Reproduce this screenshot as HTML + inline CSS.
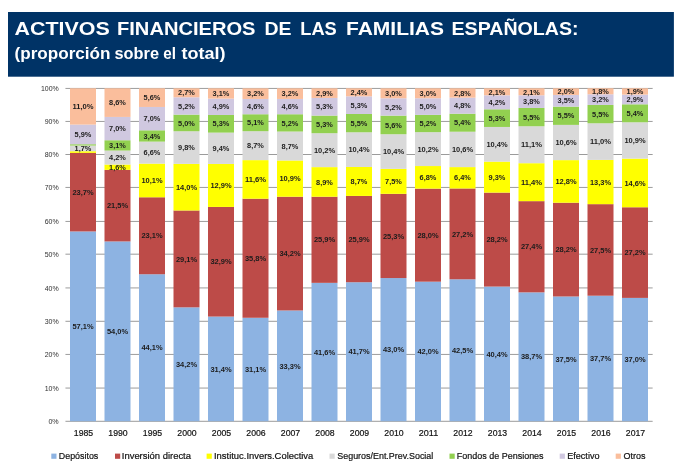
<!DOCTYPE html>
<html lang="es"><head><meta charset="utf-8"><title>Activos financieros de las familias españolas</title>
<style>
html,body{margin:0;padding:0;background:#fff;}
body{width:680px;height:476px;overflow:hidden;position:relative;font-family:"Liberation Sans",sans-serif;}
svg{position:absolute;left:0;top:0;display:block;filter:blur(0.35px);}
text{font-family:"Liberation Sans",sans-serif;}
.t1{font-size:19.2px;font-weight:bold;fill:#fff;}
.t2{font-size:16.6px;font-weight:bold;fill:#fff;}
.ax{font-size:7.4px;fill:#303030;}
.yr{font-size:9.2px;fill:#111;stroke:#111;stroke-width:0.2px;}
.lb{font-size:6.6px;font-weight:bold;fill:#1c1c1c;}
.lg{font-size:9.2px;fill:#111;stroke:#111;stroke-width:0.2px;}
</style></head><body>
<svg width="680" height="476" viewBox="0 0 680 476">
<rect x="0" y="0" width="680" height="476" fill="#ffffff"/>
<rect x="8" y="12" width="665.9" height="64.7" fill="#003366"/>
<text class="t1" x="14.50" y="34.8" textLength="95.25" lengthAdjust="spacingAndGlyphs">ACTIVOS</text>
<text class="t1" x="117.00" y="34.8" textLength="138.50" lengthAdjust="spacingAndGlyphs">FINANCIEROS</text>
<text class="t1" x="264.50" y="34.8" textLength="27.00" lengthAdjust="spacingAndGlyphs">DE</text>
<text class="t1" x="300.25" y="34.8" textLength="36.50" lengthAdjust="spacingAndGlyphs">LAS</text>
<text class="t1" x="346.00" y="34.8" textLength="98.00" lengthAdjust="spacingAndGlyphs">FAMILIAS</text>
<text class="t1" x="451.50" y="34.8" textLength="127.10" lengthAdjust="spacingAndGlyphs">ESPAÑOLAS:</text>
<text class="t2" x="14.50" y="59.4" textLength="96.00" lengthAdjust="spacingAndGlyphs">(proporción</text>
<text class="t2" x="114.50" y="59.4" textLength="44.50" lengthAdjust="spacingAndGlyphs">sobre</text>
<text class="t2" x="163.25" y="59.4" textLength="12.75" lengthAdjust="spacingAndGlyphs">el</text>
<text class="t2" x="181.50" y="59.4" textLength="44.00" lengthAdjust="spacingAndGlyphs">total)</text>
<line x1="65.45" y1="421.30" x2="652.65" y2="421.30" stroke="#707070" stroke-width="0.7"/>
<text class="ax" x="48.40" y="424.20" textLength="10.3" lengthAdjust="spacingAndGlyphs">0%</text>
<line x1="65.45" y1="388.06" x2="652.65" y2="388.06" stroke="#707070" stroke-width="0.7"/>
<text class="ax" x="44.70" y="390.96" textLength="14.0" lengthAdjust="spacingAndGlyphs">10%</text>
<line x1="65.45" y1="354.43" x2="652.65" y2="354.43" stroke="#707070" stroke-width="0.7"/>
<text class="ax" x="44.70" y="357.33" textLength="14.0" lengthAdjust="spacingAndGlyphs">20%</text>
<line x1="65.45" y1="321.30" x2="652.65" y2="321.30" stroke="#707070" stroke-width="0.7"/>
<text class="ax" x="44.70" y="324.20" textLength="14.0" lengthAdjust="spacingAndGlyphs">30%</text>
<line x1="65.45" y1="287.93" x2="652.65" y2="287.93" stroke="#707070" stroke-width="0.7"/>
<text class="ax" x="44.70" y="290.83" textLength="14.0" lengthAdjust="spacingAndGlyphs">40%</text>
<line x1="65.45" y1="254.18" x2="652.65" y2="254.18" stroke="#707070" stroke-width="0.7"/>
<text class="ax" x="44.70" y="257.08" textLength="14.0" lengthAdjust="spacingAndGlyphs">50%</text>
<line x1="65.45" y1="221.43" x2="652.65" y2="221.43" stroke="#707070" stroke-width="0.7"/>
<text class="ax" x="44.70" y="224.33" textLength="14.0" lengthAdjust="spacingAndGlyphs">60%</text>
<line x1="65.45" y1="187.43" x2="652.65" y2="187.43" stroke="#707070" stroke-width="0.7"/>
<text class="ax" x="44.70" y="190.33" textLength="14.0" lengthAdjust="spacingAndGlyphs">70%</text>
<line x1="65.45" y1="154.50" x2="652.65" y2="154.50" stroke="#707070" stroke-width="0.7"/>
<text class="ax" x="44.70" y="157.40" textLength="14.0" lengthAdjust="spacingAndGlyphs">80%</text>
<line x1="65.45" y1="121.43" x2="652.65" y2="121.43" stroke="#707070" stroke-width="0.7"/>
<text class="ax" x="44.70" y="124.33" textLength="14.0" lengthAdjust="spacingAndGlyphs">90%</text>
<line x1="65.45" y1="88.43" x2="652.65" y2="88.43" stroke="#707070" stroke-width="0.7"/>
<text class="ax" x="40.90" y="91.33" textLength="17.8" lengthAdjust="spacingAndGlyphs">100%</text>
<rect x="70.00" y="231.45" width="26.00" height="189.75" fill="#8DB3E2"/>
<text class="lb" x="72.40" y="329.02" textLength="21.2" lengthAdjust="spacingAndGlyphs">57,1%</text>
<rect x="70.00" y="152.88" width="26.00" height="78.56" fill="#BD4B48"/>
<text class="lb" x="72.40" y="194.86" textLength="21.2" lengthAdjust="spacingAndGlyphs">23,7%</text>
<rect x="70.00" y="151.22" width="26.00" height="1.66" fill="#FFFF00"/>
<rect x="70.00" y="145.56" width="26.00" height="5.66" fill="#D9D9D9"/>
<text class="lb" x="74.60" y="151.09" textLength="16.8" lengthAdjust="spacingAndGlyphs">1,7%</text>
<rect x="70.00" y="144.23" width="26.00" height="1.33" fill="#92D050"/>
<rect x="70.00" y="124.59" width="26.00" height="19.64" fill="#D0C8E0"/>
<text class="lb" x="74.60" y="137.11" textLength="16.8" lengthAdjust="spacingAndGlyphs">5,9%</text>
<rect x="70.00" y="88.30" width="26.00" height="36.29" fill="#FABE9C"/>
<text class="lb" x="72.40" y="109.14" textLength="21.2" lengthAdjust="spacingAndGlyphs">11,0%</text>
<text class="yr" x="73.80" y="435.9" textLength="19.4" lengthAdjust="spacingAndGlyphs">1985</text>
<rect x="104.50" y="241.43" width="26.00" height="179.77" fill="#8DB3E2"/>
<text class="lb" x="106.90" y="334.02" textLength="21.2" lengthAdjust="spacingAndGlyphs">54,0%</text>
<rect x="104.50" y="169.86" width="26.00" height="71.57" fill="#BD4B48"/>
<text class="lb" x="106.90" y="208.35" textLength="21.2" lengthAdjust="spacingAndGlyphs">21,5%</text>
<rect x="104.50" y="164.53" width="26.00" height="5.33" fill="#FFFF00"/>
<text class="lb" x="109.10" y="169.90" textLength="16.8" lengthAdjust="spacingAndGlyphs">1,6%</text>
<rect x="104.50" y="150.55" width="26.00" height="13.98" fill="#D9D9D9"/>
<text class="lb" x="109.10" y="160.24" textLength="16.8" lengthAdjust="spacingAndGlyphs">4,2%</text>
<rect x="104.50" y="140.23" width="26.00" height="10.32" fill="#92D050"/>
<text class="lb" x="109.10" y="148.09" textLength="16.8" lengthAdjust="spacingAndGlyphs">3,1%</text>
<rect x="104.50" y="116.93" width="26.00" height="23.30" fill="#D0C8E0"/>
<text class="lb" x="109.10" y="131.28" textLength="16.8" lengthAdjust="spacingAndGlyphs">7,0%</text>
<rect x="104.50" y="88.30" width="26.00" height="28.63" fill="#FABE9C"/>
<text class="lb" x="109.10" y="105.31" textLength="16.8" lengthAdjust="spacingAndGlyphs">8,6%</text>
<text class="yr" x="108.30" y="435.9" textLength="19.4" lengthAdjust="spacingAndGlyphs">1990</text>
<rect x="139.00" y="274.24" width="26.00" height="146.96" fill="#8DB3E2"/>
<text class="lb" x="141.40" y="350.42" textLength="21.2" lengthAdjust="spacingAndGlyphs">44,1%</text>
<rect x="139.00" y="197.27" width="26.00" height="76.98" fill="#BD4B48"/>
<text class="lb" x="141.40" y="238.46" textLength="21.2" lengthAdjust="spacingAndGlyphs">23,1%</text>
<rect x="139.00" y="163.61" width="26.00" height="33.66" fill="#FFFF00"/>
<text class="lb" x="141.40" y="183.14" textLength="21.2" lengthAdjust="spacingAndGlyphs">10,1%</text>
<rect x="139.00" y="141.62" width="26.00" height="21.99" fill="#D9D9D9"/>
<text class="lb" x="143.60" y="155.31" textLength="16.8" lengthAdjust="spacingAndGlyphs">6,6%</text>
<rect x="139.00" y="130.29" width="26.00" height="11.33" fill="#92D050"/>
<text class="lb" x="143.60" y="138.65" textLength="16.8" lengthAdjust="spacingAndGlyphs">3,4%</text>
<rect x="139.00" y="106.96" width="26.00" height="23.33" fill="#D0C8E0"/>
<text class="lb" x="143.60" y="121.32" textLength="16.8" lengthAdjust="spacingAndGlyphs">7,0%</text>
<rect x="139.00" y="88.30" width="26.00" height="18.66" fill="#FABE9C"/>
<text class="lb" x="143.60" y="100.33" textLength="16.8" lengthAdjust="spacingAndGlyphs">5,6%</text>
<text class="yr" x="142.80" y="435.9" textLength="19.4" lengthAdjust="spacingAndGlyphs">1995</text>
<rect x="173.50" y="307.35" width="26.00" height="113.85" fill="#8DB3E2"/>
<text class="lb" x="175.90" y="366.97" textLength="21.2" lengthAdjust="spacingAndGlyphs">34,2%</text>
<rect x="173.50" y="210.47" width="26.00" height="96.87" fill="#BD4B48"/>
<text class="lb" x="175.90" y="261.61" textLength="21.2" lengthAdjust="spacingAndGlyphs">29,1%</text>
<rect x="173.50" y="163.87" width="26.00" height="46.61" fill="#FFFF00"/>
<text class="lb" x="175.90" y="189.87" textLength="21.2" lengthAdjust="spacingAndGlyphs">14,0%</text>
<rect x="173.50" y="131.24" width="26.00" height="32.62" fill="#D9D9D9"/>
<text class="lb" x="178.10" y="150.26" textLength="16.8" lengthAdjust="spacingAndGlyphs">9,8%</text>
<rect x="173.50" y="114.60" width="26.00" height="16.65" fill="#92D050"/>
<text class="lb" x="178.10" y="125.62" textLength="16.8" lengthAdjust="spacingAndGlyphs">5,0%</text>
<rect x="173.50" y="97.29" width="26.00" height="17.31" fill="#D0C8E0"/>
<text class="lb" x="178.10" y="108.64" textLength="16.8" lengthAdjust="spacingAndGlyphs">5,2%</text>
<rect x="173.50" y="88.30" width="26.00" height="8.99" fill="#FABE9C"/>
<text class="lb" x="178.10" y="95.49" textLength="16.8" lengthAdjust="spacingAndGlyphs">2,7%</text>
<text class="yr" x="177.30" y="435.9" textLength="19.4" lengthAdjust="spacingAndGlyphs">2000</text>
<rect x="208.00" y="316.56" width="26.00" height="104.64" fill="#8DB3E2"/>
<text class="lb" x="210.40" y="371.58" textLength="21.2" lengthAdjust="spacingAndGlyphs">31,4%</text>
<rect x="208.00" y="206.93" width="26.00" height="109.63" fill="#BD4B48"/>
<text class="lb" x="210.40" y="264.45" textLength="21.2" lengthAdjust="spacingAndGlyphs">32,9%</text>
<rect x="208.00" y="163.94" width="26.00" height="42.99" fill="#FFFF00"/>
<text class="lb" x="210.40" y="188.14" textLength="21.2" lengthAdjust="spacingAndGlyphs">12,9%</text>
<rect x="208.00" y="132.62" width="26.00" height="31.32" fill="#D9D9D9"/>
<text class="lb" x="212.60" y="150.98" textLength="16.8" lengthAdjust="spacingAndGlyphs">9,4%</text>
<rect x="208.00" y="114.96" width="26.00" height="17.66" fill="#92D050"/>
<text class="lb" x="212.60" y="126.49" textLength="16.8" lengthAdjust="spacingAndGlyphs">5,3%</text>
<rect x="208.00" y="98.63" width="26.00" height="16.33" fill="#D0C8E0"/>
<text class="lb" x="212.60" y="109.49" textLength="16.8" lengthAdjust="spacingAndGlyphs">4,9%</text>
<rect x="208.00" y="88.30" width="26.00" height="10.33" fill="#FABE9C"/>
<text class="lb" x="212.60" y="96.17" textLength="16.8" lengthAdjust="spacingAndGlyphs">3,1%</text>
<text class="yr" x="211.80" y="435.9" textLength="19.4" lengthAdjust="spacingAndGlyphs">2005</text>
<rect x="242.50" y="317.77" width="26.00" height="103.43" fill="#8DB3E2"/>
<text class="lb" x="244.90" y="372.19" textLength="21.2" lengthAdjust="spacingAndGlyphs">31,1%</text>
<rect x="242.50" y="198.71" width="26.00" height="119.06" fill="#BD4B48"/>
<text class="lb" x="244.90" y="260.94" textLength="21.2" lengthAdjust="spacingAndGlyphs">35,8%</text>
<rect x="242.50" y="160.13" width="26.00" height="38.58" fill="#FFFF00"/>
<text class="lb" x="244.90" y="182.12" textLength="21.2" lengthAdjust="spacingAndGlyphs">11,6%</text>
<rect x="242.50" y="131.20" width="26.00" height="28.93" fill="#D9D9D9"/>
<text class="lb" x="247.10" y="148.37" textLength="16.8" lengthAdjust="spacingAndGlyphs">8,7%</text>
<rect x="242.50" y="114.24" width="26.00" height="16.96" fill="#92D050"/>
<text class="lb" x="247.10" y="125.42" textLength="16.8" lengthAdjust="spacingAndGlyphs">5,1%</text>
<rect x="242.50" y="98.94" width="26.00" height="15.30" fill="#D0C8E0"/>
<text class="lb" x="247.10" y="109.29" textLength="16.8" lengthAdjust="spacingAndGlyphs">4,6%</text>
<rect x="242.50" y="88.30" width="26.00" height="10.64" fill="#FABE9C"/>
<text class="lb" x="247.10" y="96.32" textLength="16.8" lengthAdjust="spacingAndGlyphs">3,2%</text>
<text class="yr" x="246.30" y="435.9" textLength="19.4" lengthAdjust="spacingAndGlyphs">2006</text>
<rect x="277.00" y="310.46" width="26.00" height="110.74" fill="#8DB3E2"/>
<text class="lb" x="279.40" y="368.53" textLength="21.2" lengthAdjust="spacingAndGlyphs">33,3%</text>
<rect x="277.00" y="196.72" width="26.00" height="113.74" fill="#BD4B48"/>
<text class="lb" x="279.40" y="256.29" textLength="21.2" lengthAdjust="spacingAndGlyphs">34,2%</text>
<rect x="277.00" y="160.47" width="26.00" height="36.25" fill="#FFFF00"/>
<text class="lb" x="279.40" y="181.29" textLength="21.2" lengthAdjust="spacingAndGlyphs">10,9%</text>
<rect x="277.00" y="131.53" width="26.00" height="28.93" fill="#D9D9D9"/>
<text class="lb" x="281.60" y="148.70" textLength="16.8" lengthAdjust="spacingAndGlyphs">8,7%</text>
<rect x="277.00" y="114.24" width="26.00" height="17.29" fill="#92D050"/>
<text class="lb" x="281.60" y="125.59" textLength="16.8" lengthAdjust="spacingAndGlyphs">5,2%</text>
<rect x="277.00" y="98.94" width="26.00" height="15.30" fill="#D0C8E0"/>
<text class="lb" x="281.60" y="109.29" textLength="16.8" lengthAdjust="spacingAndGlyphs">4,6%</text>
<rect x="277.00" y="88.30" width="26.00" height="10.64" fill="#FABE9C"/>
<text class="lb" x="281.60" y="96.32" textLength="16.8" lengthAdjust="spacingAndGlyphs">3,2%</text>
<text class="yr" x="280.80" y="435.9" textLength="19.4" lengthAdjust="spacingAndGlyphs">2007</text>
<rect x="311.50" y="282.85" width="26.00" height="138.35" fill="#8DB3E2"/>
<text class="lb" x="313.90" y="354.73" textLength="21.2" lengthAdjust="spacingAndGlyphs">41,6%</text>
<rect x="311.50" y="196.72" width="26.00" height="86.13" fill="#BD4B48"/>
<text class="lb" x="313.90" y="242.48" textLength="21.2" lengthAdjust="spacingAndGlyphs">25,9%</text>
<rect x="311.50" y="167.12" width="26.00" height="29.60" fill="#FFFF00"/>
<text class="lb" x="316.10" y="184.62" textLength="16.8" lengthAdjust="spacingAndGlyphs">8,9%</text>
<rect x="311.50" y="133.20" width="26.00" height="33.92" fill="#D9D9D9"/>
<text class="lb" x="313.90" y="152.86" textLength="21.2" lengthAdjust="spacingAndGlyphs">10,2%</text>
<rect x="311.50" y="115.57" width="26.00" height="17.63" fill="#92D050"/>
<text class="lb" x="316.10" y="127.08" textLength="16.8" lengthAdjust="spacingAndGlyphs">5,3%</text>
<rect x="311.50" y="97.94" width="26.00" height="17.63" fill="#D0C8E0"/>
<text class="lb" x="316.10" y="109.46" textLength="16.8" lengthAdjust="spacingAndGlyphs">5,3%</text>
<rect x="311.50" y="88.30" width="26.00" height="9.64" fill="#FABE9C"/>
<text class="lb" x="316.10" y="95.82" textLength="16.8" lengthAdjust="spacingAndGlyphs">2,9%</text>
<text class="yr" x="315.30" y="435.9" textLength="19.4" lengthAdjust="spacingAndGlyphs">2008</text>
<rect x="346.00" y="282.24" width="26.00" height="138.96" fill="#8DB3E2"/>
<text class="lb" x="348.40" y="354.42" textLength="21.2" lengthAdjust="spacingAndGlyphs">41,7%</text>
<rect x="346.00" y="195.93" width="26.00" height="86.31" fill="#BD4B48"/>
<text class="lb" x="348.40" y="241.79" textLength="21.2" lengthAdjust="spacingAndGlyphs">25,9%</text>
<rect x="346.00" y="166.94" width="26.00" height="28.99" fill="#FFFF00"/>
<text class="lb" x="350.60" y="184.14" textLength="16.8" lengthAdjust="spacingAndGlyphs">8,7%</text>
<rect x="346.00" y="132.29" width="26.00" height="34.66" fill="#D9D9D9"/>
<text class="lb" x="348.40" y="152.31" textLength="21.2" lengthAdjust="spacingAndGlyphs">10,4%</text>
<rect x="346.00" y="113.96" width="26.00" height="18.33" fill="#92D050"/>
<text class="lb" x="350.60" y="125.82" textLength="16.8" lengthAdjust="spacingAndGlyphs">5,5%</text>
<rect x="346.00" y="96.30" width="26.00" height="17.66" fill="#D0C8E0"/>
<text class="lb" x="350.60" y="107.83" textLength="16.8" lengthAdjust="spacingAndGlyphs">5,3%</text>
<rect x="346.00" y="88.30" width="26.00" height="8.00" fill="#FABE9C"/>
<text class="lb" x="350.60" y="95.00" textLength="16.8" lengthAdjust="spacingAndGlyphs">2,4%</text>
<text class="yr" x="349.80" y="435.9" textLength="19.4" lengthAdjust="spacingAndGlyphs">2009</text>
<rect x="380.50" y="278.05" width="26.00" height="143.15" fill="#8DB3E2"/>
<text class="lb" x="382.90" y="352.33" textLength="21.2" lengthAdjust="spacingAndGlyphs">43,0%</text>
<rect x="380.50" y="193.83" width="26.00" height="84.22" fill="#BD4B48"/>
<text class="lb" x="382.90" y="238.64" textLength="21.2" lengthAdjust="spacingAndGlyphs">25,3%</text>
<rect x="380.50" y="168.86" width="26.00" height="24.97" fill="#FFFF00"/>
<text class="lb" x="385.10" y="184.05" textLength="16.8" lengthAdjust="spacingAndGlyphs">7,5%</text>
<rect x="380.50" y="134.24" width="26.00" height="34.62" fill="#D9D9D9"/>
<text class="lb" x="382.90" y="154.25" textLength="21.2" lengthAdjust="spacingAndGlyphs">10,4%</text>
<rect x="380.50" y="115.60" width="26.00" height="18.64" fill="#92D050"/>
<text class="lb" x="385.10" y="127.62" textLength="16.8" lengthAdjust="spacingAndGlyphs">5,6%</text>
<rect x="380.50" y="98.29" width="26.00" height="17.31" fill="#D0C8E0"/>
<text class="lb" x="385.10" y="109.64" textLength="16.8" lengthAdjust="spacingAndGlyphs">5,2%</text>
<rect x="380.50" y="88.30" width="26.00" height="9.99" fill="#FABE9C"/>
<text class="lb" x="385.10" y="95.99" textLength="16.8" lengthAdjust="spacingAndGlyphs">3,0%</text>
<text class="yr" x="384.30" y="435.9" textLength="19.4" lengthAdjust="spacingAndGlyphs">2010</text>
<rect x="415.00" y="281.66" width="26.00" height="139.54" fill="#8DB3E2"/>
<text class="lb" x="417.40" y="354.13" textLength="21.2" lengthAdjust="spacingAndGlyphs">42,0%</text>
<rect x="415.00" y="188.64" width="26.00" height="93.03" fill="#BD4B48"/>
<text class="lb" x="417.40" y="237.85" textLength="21.2" lengthAdjust="spacingAndGlyphs">28,0%</text>
<rect x="415.00" y="166.04" width="26.00" height="22.59" fill="#FFFF00"/>
<text class="lb" x="419.60" y="180.04" textLength="16.8" lengthAdjust="spacingAndGlyphs">6,8%</text>
<rect x="415.00" y="132.16" width="26.00" height="33.89" fill="#D9D9D9"/>
<text class="lb" x="417.40" y="151.80" textLength="21.2" lengthAdjust="spacingAndGlyphs">10,2%</text>
<rect x="415.00" y="114.88" width="26.00" height="17.28" fill="#92D050"/>
<text class="lb" x="419.60" y="126.22" textLength="16.8" lengthAdjust="spacingAndGlyphs">5,2%</text>
<rect x="415.00" y="98.27" width="26.00" height="16.61" fill="#D0C8E0"/>
<text class="lb" x="419.60" y="109.27" textLength="16.8" lengthAdjust="spacingAndGlyphs">5,0%</text>
<rect x="415.00" y="88.30" width="26.00" height="9.97" fill="#FABE9C"/>
<text class="lb" x="419.60" y="95.98" textLength="16.8" lengthAdjust="spacingAndGlyphs">3,0%</text>
<text class="yr" x="418.80" y="435.9" textLength="19.4" lengthAdjust="spacingAndGlyphs">2011</text>
<rect x="449.50" y="279.29" width="26.00" height="141.91" fill="#8DB3E2"/>
<text class="lb" x="451.90" y="352.95" textLength="21.2" lengthAdjust="spacingAndGlyphs">42,5%</text>
<rect x="449.50" y="188.47" width="26.00" height="90.82" fill="#BD4B48"/>
<text class="lb" x="451.90" y="236.58" textLength="21.2" lengthAdjust="spacingAndGlyphs">27,2%</text>
<rect x="449.50" y="167.10" width="26.00" height="21.37" fill="#FFFF00"/>
<text class="lb" x="454.10" y="180.49" textLength="16.8" lengthAdjust="spacingAndGlyphs">6,4%</text>
<rect x="449.50" y="131.71" width="26.00" height="35.39" fill="#D9D9D9"/>
<text class="lb" x="451.90" y="152.10" textLength="21.2" lengthAdjust="spacingAndGlyphs">10,6%</text>
<rect x="449.50" y="113.68" width="26.00" height="18.03" fill="#92D050"/>
<text class="lb" x="454.10" y="125.39" textLength="16.8" lengthAdjust="spacingAndGlyphs">5,4%</text>
<rect x="449.50" y="97.65" width="26.00" height="16.03" fill="#D0C8E0"/>
<text class="lb" x="454.10" y="108.36" textLength="16.8" lengthAdjust="spacingAndGlyphs">4,8%</text>
<rect x="449.50" y="88.30" width="26.00" height="9.35" fill="#FABE9C"/>
<text class="lb" x="454.10" y="95.67" textLength="16.8" lengthAdjust="spacingAndGlyphs">2,8%</text>
<text class="yr" x="453.30" y="435.9" textLength="19.4" lengthAdjust="spacingAndGlyphs">2012</text>
<rect x="484.00" y="286.57" width="26.00" height="134.63" fill="#8DB3E2"/>
<text class="lb" x="486.40" y="356.59" textLength="21.2" lengthAdjust="spacingAndGlyphs">40,4%</text>
<rect x="484.00" y="192.60" width="26.00" height="93.97" fill="#BD4B48"/>
<text class="lb" x="486.40" y="242.29" textLength="21.2" lengthAdjust="spacingAndGlyphs">28,2%</text>
<rect x="484.00" y="161.61" width="26.00" height="30.99" fill="#FFFF00"/>
<text class="lb" x="488.60" y="179.81" textLength="16.8" lengthAdjust="spacingAndGlyphs">9,3%</text>
<rect x="484.00" y="126.96" width="26.00" height="34.66" fill="#D9D9D9"/>
<text class="lb" x="486.40" y="146.98" textLength="21.2" lengthAdjust="spacingAndGlyphs">10,4%</text>
<rect x="484.00" y="109.29" width="26.00" height="17.66" fill="#92D050"/>
<text class="lb" x="488.60" y="120.82" textLength="16.8" lengthAdjust="spacingAndGlyphs">5,3%</text>
<rect x="484.00" y="95.30" width="26.00" height="14.00" fill="#D0C8E0"/>
<text class="lb" x="488.60" y="105.00" textLength="16.8" lengthAdjust="spacingAndGlyphs">4,2%</text>
<rect x="484.00" y="88.30" width="26.00" height="7.00" fill="#FABE9C"/>
<text class="lb" x="488.60" y="94.50" textLength="16.8" lengthAdjust="spacingAndGlyphs">2,1%</text>
<text class="yr" x="487.80" y="435.9" textLength="19.4" lengthAdjust="spacingAndGlyphs">2013</text>
<rect x="518.50" y="292.37" width="26.00" height="128.83" fill="#8DB3E2"/>
<text class="lb" x="520.90" y="359.48" textLength="21.2" lengthAdjust="spacingAndGlyphs">38,7%</text>
<rect x="518.50" y="201.15" width="26.00" height="91.21" fill="#BD4B48"/>
<text class="lb" x="520.90" y="249.46" textLength="21.2" lengthAdjust="spacingAndGlyphs">27,4%</text>
<rect x="518.50" y="163.20" width="26.00" height="37.95" fill="#FFFF00"/>
<text class="lb" x="520.90" y="184.88" textLength="21.2" lengthAdjust="spacingAndGlyphs">11,4%</text>
<rect x="518.50" y="126.25" width="26.00" height="36.95" fill="#D9D9D9"/>
<text class="lb" x="520.90" y="147.43" textLength="21.2" lengthAdjust="spacingAndGlyphs">11,1%</text>
<rect x="518.50" y="107.94" width="26.00" height="18.31" fill="#92D050"/>
<text class="lb" x="523.10" y="119.80" textLength="16.8" lengthAdjust="spacingAndGlyphs">5,5%</text>
<rect x="518.50" y="95.29" width="26.00" height="12.65" fill="#D0C8E0"/>
<text class="lb" x="523.10" y="104.32" textLength="16.8" lengthAdjust="spacingAndGlyphs">3,8%</text>
<rect x="518.50" y="88.30" width="26.00" height="6.99" fill="#FABE9C"/>
<text class="lb" x="523.10" y="94.50" textLength="16.8" lengthAdjust="spacingAndGlyphs">2,1%</text>
<text class="yr" x="522.30" y="435.9" textLength="19.4" lengthAdjust="spacingAndGlyphs">2014</text>
<rect x="553.00" y="296.49" width="26.00" height="124.71" fill="#8DB3E2"/>
<text class="lb" x="555.40" y="361.54" textLength="21.2" lengthAdjust="spacingAndGlyphs">37,5%</text>
<rect x="553.00" y="202.70" width="26.00" height="93.78" fill="#BD4B48"/>
<text class="lb" x="555.40" y="252.30" textLength="21.2" lengthAdjust="spacingAndGlyphs">28,2%</text>
<rect x="553.00" y="160.13" width="26.00" height="42.57" fill="#FFFF00"/>
<text class="lb" x="555.40" y="184.12" textLength="21.2" lengthAdjust="spacingAndGlyphs">12,8%</text>
<rect x="553.00" y="124.88" width="26.00" height="35.25" fill="#D9D9D9"/>
<text class="lb" x="555.40" y="145.21" textLength="21.2" lengthAdjust="spacingAndGlyphs">10,6%</text>
<rect x="553.00" y="106.59" width="26.00" height="18.29" fill="#92D050"/>
<text class="lb" x="557.60" y="118.44" textLength="16.8" lengthAdjust="spacingAndGlyphs">5,5%</text>
<rect x="553.00" y="94.95" width="26.00" height="11.64" fill="#D0C8E0"/>
<text class="lb" x="557.60" y="103.47" textLength="16.8" lengthAdjust="spacingAndGlyphs">3,5%</text>
<rect x="553.00" y="88.30" width="26.00" height="6.65" fill="#FABE9C"/>
<text class="lb" x="557.60" y="94.33" textLength="16.8" lengthAdjust="spacingAndGlyphs">2,0%</text>
<text class="yr" x="556.80" y="435.9" textLength="19.4" lengthAdjust="spacingAndGlyphs">2015</text>
<rect x="587.50" y="295.70" width="26.00" height="125.50" fill="#8DB3E2"/>
<text class="lb" x="589.90" y="361.15" textLength="21.2" lengthAdjust="spacingAndGlyphs">37,7%</text>
<rect x="587.50" y="204.15" width="26.00" height="91.55" fill="#BD4B48"/>
<text class="lb" x="589.90" y="252.62" textLength="21.2" lengthAdjust="spacingAndGlyphs">27,5%</text>
<rect x="587.50" y="159.87" width="26.00" height="44.28" fill="#FFFF00"/>
<text class="lb" x="589.90" y="184.71" textLength="21.2" lengthAdjust="spacingAndGlyphs">13,3%</text>
<rect x="587.50" y="123.25" width="26.00" height="36.62" fill="#D9D9D9"/>
<text class="lb" x="589.90" y="144.26" textLength="21.2" lengthAdjust="spacingAndGlyphs">11,0%</text>
<rect x="587.50" y="104.95" width="26.00" height="18.31" fill="#92D050"/>
<text class="lb" x="592.10" y="116.80" textLength="16.8" lengthAdjust="spacingAndGlyphs">5,5%</text>
<rect x="587.50" y="94.29" width="26.00" height="10.65" fill="#D0C8E0"/>
<text class="lb" x="592.10" y="102.32" textLength="16.8" lengthAdjust="spacingAndGlyphs">3,2%</text>
<rect x="587.50" y="88.30" width="26.00" height="5.99" fill="#FABE9C"/>
<text class="lb" x="592.10" y="94.00" textLength="16.8" lengthAdjust="spacingAndGlyphs">1,8%</text>
<text class="yr" x="591.30" y="435.9" textLength="19.4" lengthAdjust="spacingAndGlyphs">2016</text>
<rect x="622.00" y="297.90" width="26.00" height="123.30" fill="#8DB3E2"/>
<text class="lb" x="624.40" y="362.25" textLength="21.2" lengthAdjust="spacingAndGlyphs">37,0%</text>
<rect x="622.00" y="207.26" width="26.00" height="90.64" fill="#BD4B48"/>
<text class="lb" x="624.40" y="255.28" textLength="21.2" lengthAdjust="spacingAndGlyphs">27,2%</text>
<rect x="622.00" y="158.61" width="26.00" height="48.65" fill="#FFFF00"/>
<text class="lb" x="624.40" y="185.64" textLength="21.2" lengthAdjust="spacingAndGlyphs">14,6%</text>
<rect x="622.00" y="122.29" width="26.00" height="36.32" fill="#D9D9D9"/>
<text class="lb" x="624.40" y="143.15" textLength="21.2" lengthAdjust="spacingAndGlyphs">10,9%</text>
<rect x="622.00" y="104.30" width="26.00" height="17.99" fill="#92D050"/>
<text class="lb" x="626.60" y="115.99" textLength="16.8" lengthAdjust="spacingAndGlyphs">5,4%</text>
<rect x="622.00" y="94.63" width="26.00" height="9.66" fill="#D0C8E0"/>
<text class="lb" x="626.60" y="102.16" textLength="16.8" lengthAdjust="spacingAndGlyphs">2,9%</text>
<rect x="622.00" y="88.30" width="26.00" height="6.33" fill="#FABE9C"/>
<text class="lb" x="626.60" y="94.17" textLength="16.8" lengthAdjust="spacingAndGlyphs">1,9%</text>
<text class="yr" x="625.80" y="435.9" textLength="19.4" lengthAdjust="spacingAndGlyphs">2017</text>
<rect x="51.3" y="453.6" width="5.2" height="5.2" fill="#8DB3E2"/>
<text class="lg" x="58.8" y="459.0" textLength="39.5" lengthAdjust="spacingAndGlyphs">Depósitos</text>
<rect x="115.0" y="453.6" width="5.2" height="5.2" fill="#BD4B48"/>
<text class="lg" x="121.8" y="459.0" textLength="69.2" lengthAdjust="spacingAndGlyphs">Inversión directa</text>
<rect x="206.6" y="453.6" width="5.2" height="5.2" fill="#FFFF00"/>
<text class="lg" x="214.0" y="459.0" textLength="99.3" lengthAdjust="spacingAndGlyphs">Instituc.Invers.Colectiva</text>
<rect x="329.5" y="453.6" width="5.2" height="5.2" fill="#D9D9D9"/>
<text class="lg" x="337.3" y="459.0" textLength="96.0" lengthAdjust="spacingAndGlyphs">Seguros/Ent.Prev.Social</text>
<rect x="449.5" y="453.6" width="5.2" height="5.2" fill="#92D050"/>
<text class="lg" x="456.8" y="459.0" textLength="86.8" lengthAdjust="spacingAndGlyphs">Fondos de Pensiones</text>
<rect x="559.7" y="453.6" width="5.2" height="5.2" fill="#D0C8E0"/>
<text class="lg" x="567.2" y="459.0" textLength="32.3" lengthAdjust="spacingAndGlyphs">Efectivo</text>
<rect x="615.7" y="453.6" width="5.2" height="5.2" fill="#FABE9C"/>
<text class="lg" x="623.5" y="459.0" textLength="22.0" lengthAdjust="spacingAndGlyphs">Otros</text>
</svg></body></html>
